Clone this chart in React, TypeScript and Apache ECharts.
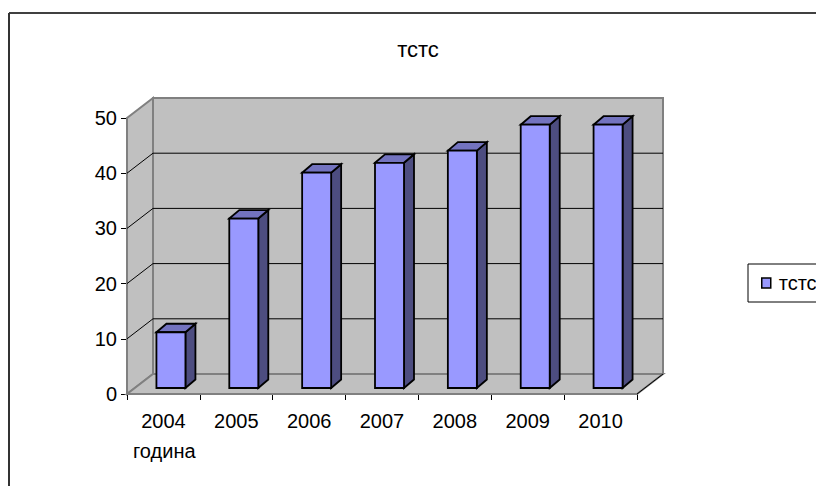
import React, { useEffect, useRef } from "react";
import * as echarts from "echarts";

const categories = ["2004", "2005", "2006", "2007", "2008", "2009", "2010"];
const values = [10.1, 30.7, 39, 40.8, 43, 47.7, 47.7];
const seriesName = "тстс";
const axisName = "година";
const yMax = 50;
const yStep = 10;
const wallTicks = [0, 10, 20, 30, 40, 50];

const WALL_DX = 26;
const WALL_DY = -20;
const BAR_DX = 7.5;
const BAR_DY = -6;
const BAR_W = 29;
const BAR_DEPTH_X = 10;
const BAR_DEPTH_Y = -8.5;

const FONT = "'Liberation Sans', Arial, sans-serif";

const renderWalls = (_: any, api: any) => {
  const band = api.size([1, 0])[0];
  const left = api.coord([0, 0])[0] - band / 2;
  const right = left + band * categories.length;
  const bottom = api.coord([0, 0])[1];
  const top = api.coord([0, yMax])[1];
  const children: any[] = [];
  const wallStyle = { fill: "#c0c0c0", stroke: "#808080", lineWidth: 2 };
  children.push({
    type: "polygon",
    shape: { points: [[left, bottom], [left + WALL_DX, bottom + WALL_DY], [left + WALL_DX, top + WALL_DY], [left, top]] },
    style: wallStyle,
  });
  children.push({
    type: "polygon",
    shape: { points: [[left, bottom], [left + WALL_DX, bottom + WALL_DY], [right + WALL_DX, bottom + WALL_DY], [right, bottom]] },
    style: wallStyle,
  });
  children.push({
    type: "rect",
    shape: { x: left + WALL_DX, y: top + WALL_DY, width: right - left, height: bottom - top },
    style: wallStyle,
  });
  wallTicks.slice(1, -1).forEach((t) => {
    const y = api.coord([0, t])[1];
    children.push({
      type: "polyline",
      shape: { points: [[left, y], [left + WALL_DX, y + WALL_DY], [right + WALL_DX, y + WALL_DY]] },
      style: { fill: "none", stroke: "#000000", lineWidth: 1 },
    });
  });
  children.push({
    type: "line",
    shape: { x1: right, y1: bottom, x2: right + WALL_DX, y2: bottom + WALL_DY },
    style: { stroke: "#000000", lineWidth: 1 },
  });
  return { type: "group", children };
};

const renderBar = (_: any, api: any) => {
  const idx = api.value(0);
  const base = api.coord([idx, 0]);
  const head = api.coord([idx, api.value(1)]);
  const x0 = base[0] + BAR_DX - BAR_W / 2;
  const x1 = x0 + BAR_W;
  const yb = base[1] + BAR_DY;
  const yt = head[1] + BAR_DY;
  const edge = { stroke: "#000000", lineWidth: 1.8, lineJoin: "miter" };
  return {
    type: "group",
    children: [
      {
        type: "polygon",
        shape: { points: [[x1, yb], [x1 + BAR_DEPTH_X, yb + BAR_DEPTH_Y], [x1 + BAR_DEPTH_X, yt + BAR_DEPTH_Y], [x1, yt]] },
        style: { fill: "#4d4d80", ...edge },
      },
      {
        type: "polygon",
        shape: { points: [[x0, yt], [x0 + BAR_DEPTH_X, yt + BAR_DEPTH_Y], [x1 + BAR_DEPTH_X, yt + BAR_DEPTH_Y], [x1, yt]] },
        style: { fill: "#7373bf", ...edge },
      },
      {
        type: "rect",
        shape: { x: x0, y: yt, width: BAR_W, height: yb - yt },
        style: { fill: "#9999ff", ...edge },
      },
    ],
  };
};

export default function App() {
  const ref = useRef<HTMLDivElement>(null);
  useEffect(() => {
    const chart = echarts.init(ref.current!, null, { renderer: "svg" });
    chart.setOption({
      animation: false,
      backgroundColor: "#ffffff",
      title: {
        text: seriesName,
        left: 413,
        top: 33,
        textAlign: "center",
        textStyle: { fontFamily: FONT, fontSize: 22, fontWeight: "normal", color: "#000000" },
      },
      legend: {
        left: 748,
        top: 264,
        orient: "vertical",
        padding: [9, 8, 9, 13],
        borderColor: "#000000",
        borderWidth: 1,
        borderRadius: 0,
        itemWidth: 9,
        itemHeight: 10,
        itemGap: 0,
        textStyle: { fontFamily: FONT, fontSize: 20, color: "#000000", padding: [0, 0, 0, 3] },
        data: [
          {
            name: seriesName,
            icon: "rect",
            itemStyle: { color: "#9999ff", borderColor: "#000000", borderWidth: 1.5 },
          },
        ],
      },
      grid: { left: 127, top: 118, width: 510, height: 276, containLabel: false },
      xAxis: {
        type: "category",
        data: categories,
        boundaryGap: true,
        axisLine: { show: true, lineStyle: { color: "#000000", width: 1 } },
        axisTick: { show: true, length: 6, lineStyle: { color: "#000000", width: 1 }, alignWithLabel: false },
        axisLabel: { fontFamily: FONT, fontSize: 20, color: "#000000", margin: 17 },
        splitLine: { show: false },
      },
      yAxis: {
        type: "value",
        min: 0,
        max: yMax,
        interval: yStep,
        axisLine: { show: true, lineStyle: { color: "#808080", width: 1.5 } },
        axisTick: { show: true, length: 6, lineStyle: { color: "#000000" } },
        axisLabel: { fontFamily: FONT, fontSize: 20, color: "#000000", margin: 10 },
        splitLine: { show: false },
      },
      graphic: [
        { type: "line", shape: { x1: 9, y1: 13, x2: 816, y2: 13 }, style: { stroke: "#000000", lineWidth: 1.5 }, z: 20 },
        { type: "line", shape: { x1: 9, y1: 13, x2: 9, y2: 486 }, style: { stroke: "#333333", lineWidth: 2 }, z: 20 },
        {
          type: "text",
          x: 133,
          y: 441,
          style: { text: axisName, fontFamily: FONT, fontSize: 20, fill: "#000000" },
          z: 20,
        },
      ],
      series: [
        {
          name: "walls",
          type: "custom",
          data: [[0, 0]],
          z: 1,
          renderItem: renderWalls,
          silent: true,
        },
        {
          name: seriesName,
          type: "custom",
          data: values.map((v, i) => [i, v]),
          encode: { x: 0, y: 1 },
          itemStyle: { color: "#9999ff" },
          z: 3,
          renderItem: renderBar,
        },
      ],
    });
    return () => chart.dispose();
  }, []);
  return <div ref={ref} style={{ position: "fixed", left: 0, top: 0, width: 816, height: 486 }} />;
}
